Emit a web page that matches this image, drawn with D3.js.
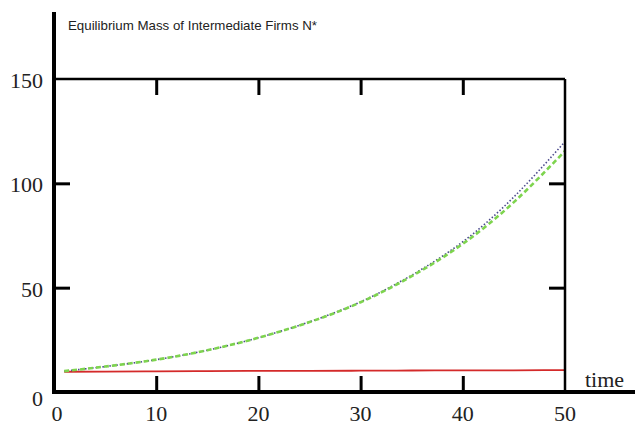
<!DOCTYPE html>
<html>
<head>
<meta charset="utf-8">
<script src="https://cdn.jsdelivr.net/npm/d3@7"></script>
<style>
  body { margin: 0; background: #fff; }
  svg { display: block; }
</style>
</head>
<body>
<svg id="chart" width="635" height="427"></svg>
<script>
// values
const times = [1, 5, 10, 15, 20, 25, 30, 35, 40, 45, 50];
const greenVals = [10, 12.2, 15.5, 20, 26, 33.5, 43, 55.5, 71, 91, 115.5];
const blueVals = [10, 12.2, 15.5, 20, 26, 33.6, 43.2, 56, 72, 93.5, 120];
const redVals = [9.7, 9.8, 9.9, 10, 10.1, 10.1, 10.2, 10.3, 10.4, 10.4, 10.5];
const xTicks = [0, 10, 20, 30, 40, 50];
const yTicks = [0, 50, 100, 150];
const innerTicksX = [10, 20, 30, 40];
const innerTicksY = [50, 100];

const svg = d3.select("#chart");
const x = d3.scaleLinear().domain([0, 50]).range([54, 565]);
const y = d3.scaleLinear().domain([0, 150]).range([392, 79]);

// Lines
const line = d3.line()
    .x(d => x(d[0]))
    .y(d => y(d[1]))
    .curve(d3.curveNatural);

svg.append("path")
    .datum(times.map((t, i) => [t, redVals[i]]))
    .attr("d", line)
    .attr("fill", "none")
    .attr("stroke", "#d42a2a")
    .attr("stroke-width", 1.8);

svg.append("path")
    .datum(times.map((t, i) => [t, blueVals[i]]))
    .attr("d", line)
    .attr("fill", "none")
    .attr("stroke", "#4b4a8c")
    .attr("stroke-width", 1.6)
    .attr("stroke-dasharray", "1.5,2");

svg.append("path")
    .datum(times.map((t, i) => [t, greenVals[i]]))
    .attr("d", line)
    .attr("fill", "none")
    .attr("stroke", "#7ed44e")
    .attr("stroke-width", 2.6)
    .attr("stroke-dasharray", "5,3");

// Frame
svg.append("line")
    .attr("x1", x(0)).attr("x2", x(50))
    .attr("y1", y(150)).attr("y2", y(150))
    .attr("stroke", "#000").attr("stroke-width", 2.5);
svg.append("line")
    .attr("x1", x(50)).attr("x2", x(50))
    .attr("y1", y(150)).attr("y2", y(0))
    .attr("stroke", "#000").attr("stroke-width", 2.5);

// Inner ticks on all four sides
const tickStyle = g => {
    g.select(".domain").remove();
    g.selectAll("text").remove();
    g.selectAll(".tick line").attr("stroke", "#000").attr("stroke-width", 3);
};
svg.append("g").attr("transform", `translate(0,${y(150)})`)
    .call(d3.axisBottom(x).tickValues(innerTicksX).tickSize(16)).call(tickStyle);
svg.append("g").attr("transform", `translate(0,${y(0)})`)
    .call(d3.axisTop(x).tickValues(innerTicksX).tickSize(16)).call(tickStyle);
svg.append("g").attr("transform", `translate(${x(0)},0)`)
    .call(d3.axisRight(y).tickValues(innerTicksY).tickSize(16)).call(tickStyle);
svg.append("g").attr("transform", `translate(${x(50)},0)`)
    .call(d3.axisLeft(y).tickValues(innerTicksY).tickSize(16)).call(tickStyle);

// Main axes (thick)
svg.append("line")
    .attr("x1", x(0)).attr("x2", x(0))
    .attr("y1", 12).attr("y2", y(0) + 2)
    .attr("stroke", "#000").attr("stroke-width", 4);
svg.append("line")
    .attr("x1", x(0) - 2).attr("x2", 635)
    .attr("y1", y(0)).attr("y2", y(0))
    .attr("stroke", "#000").attr("stroke-width", 4);

// Labels
svg.append("g").selectAll("text")
    .data(xTicks)
    .join("text")
    .attr("x", d => x(d) + (d === 0 ? 3 : 0))
    .attr("y", 421)
    .attr("text-anchor", "middle")
    .attr("font-family", "Liberation Serif, serif")
    .attr("font-size", 22)
    .attr("fill", "#222")
    .text(d => d);

svg.append("g").selectAll("text")
    .data(yTicks)
    .join("text")
    .attr("x", 43)
    .attr("y", d => y(d) + (d === 0 ? 14 : 9))
    .attr("text-anchor", "end")
    .attr("font-family", "Liberation Serif, serif")
    .attr("font-size", 22)
    .attr("fill", "#222")
    .text(d => d);

svg.append("text")
    .attr("x", 585).attr("y", 387)
    .attr("font-family", "Liberation Serif, serif")
    .attr("font-size", 22)
    .attr("fill", "#222")
    .text("time");

svg.append("text")
    .attr("x", 68).attr("y", 30)
    .attr("font-family", "Liberation Sans, Arial, sans-serif")
    .attr("font-size", 13.5)
    .attr("textLength", 249)
    .attr("lengthAdjust", "spacingAndGlyphs")
    .attr("fill", "#222")
    .text("Equilibrium Mass of Intermediate Firms N*");
</script>
</body>
</html>
